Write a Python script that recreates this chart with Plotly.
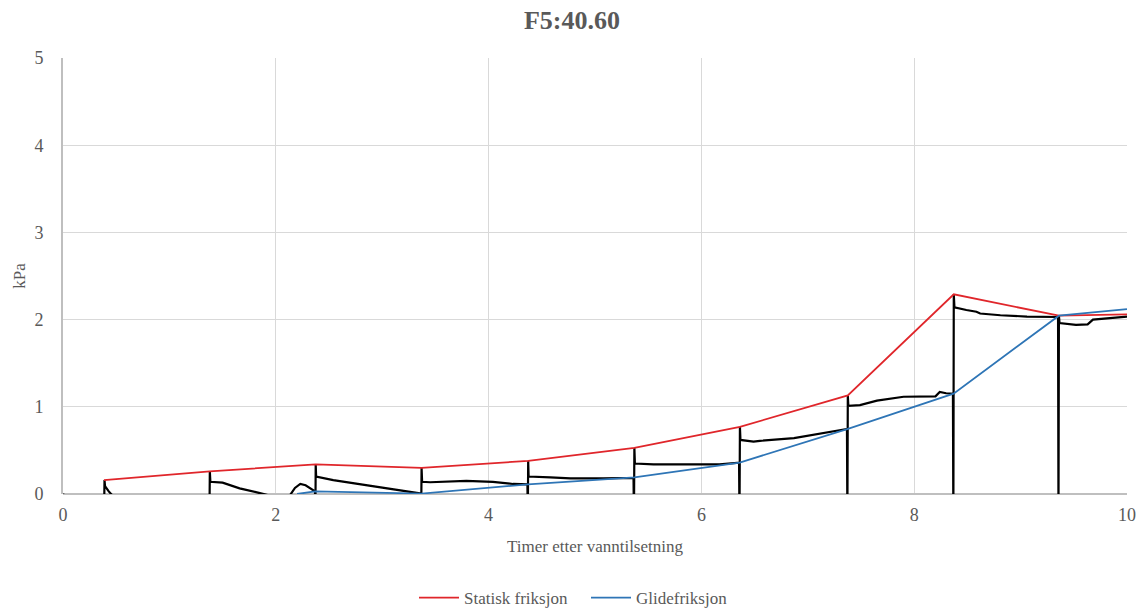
import plotly.graph_objects as go

# Hourly friction readings (kPa) against hours after water addition
hours_static = [0.385, 1.38, 2.375, 3.37, 4.372, 5.37, 6.362, 7.376, 8.372, 9.36, 10.0]
static_kpa = [0.16, 0.26, 0.34, 0.30, 0.38, 0.53, 0.77, 1.13, 2.29, 2.045, 2.06]

hours_glide = [2.2, 2.37, 3.37, 4.37, 5.37, 6.36, 7.37, 8.37, 9.36, 10.0]
glide_kpa = [0.0, 0.03, 0.005, 0.11, 0.19, 0.36, 0.745, 1.15, 2.045, 2.12]

# Raw shear-box log (kPa), including the unloading dips below zero
raw_hours = [
    0.0, 0.05, 0.2, 0.385, 0.39, 0.395, 0.43, 0.46, 0.7, 1.0,
    1.376, 1.38, 1.385, 1.5, 1.66, 1.85, 1.95, 2.05, 2.13, 2.18, 2.23, 2.28, 2.35, 2.368,
    2.372, 2.375, 2.379, 2.54, 2.85, 3.17, 3.362,
    3.366, 3.37, 3.375, 3.45, 3.79, 4.04, 4.23, 4.365,
    4.368, 4.372, 4.376, 4.58, 4.77, 5.08, 5.362,
    5.366, 5.37, 5.375, 5.55, 5.86, 6.17, 6.354,
    6.358, 6.362, 6.367, 6.49, 6.55, 6.87, 7.18, 7.368,
    7.372, 7.376, 7.381, 7.49, 7.65, 7.9, 8.2, 8.24, 8.3, 8.364,
    8.368, 8.372, 8.378, 8.49, 8.585, 8.62, 8.81, 9.06, 9.352,
    9.356, 9.36, 9.366, 9.52, 9.63, 9.68, 9.84, 10.0,
]
raw_kpa = [
    0.0, -0.05, -0.2, -0.3, 0.16, 0.09, 0.03, -0.01, -0.1, -0.15,
    -0.3, 0.26, 0.14, 0.13, 0.065, 0.01, -0.02, -0.06, -0.02, 0.07, 0.115, 0.10, 0.04, 0.03,
    -0.3, 0.34, 0.20, 0.16, 0.10, 0.046, 0.005,
    -0.3, 0.30, 0.14, 0.135, 0.15, 0.14, 0.115, 0.11,
    -0.3, 0.38, 0.20, 0.19, 0.18, 0.18, 0.185,
    -0.3, 0.53, 0.35, 0.34, 0.34, 0.34, 0.36,
    -0.3, 0.77, 0.62, 0.60, 0.61, 0.64, 0.70, 0.745,
    -0.3, 1.13, 1.01, 1.02, 1.07, 1.115, 1.12, 1.17, 1.155, 1.15,
    -0.3, 2.29, 2.14, 2.11, 2.09, 2.07, 2.05, 2.035, 2.03,
    -0.3, 2.045, 1.96, 1.94, 1.945, 2.0, 2.015, 2.035,
]

x_ticks = [0, 2, 4, 6, 8, 10]
y_ticks = [0, 1, 2, 3, 4, 5]

SERIF = "Liberation Serif, Times New Roman, serif"
GREY_TEXT = "#595959"

fig = go.Figure()

fig.add_trace(go.Scatter(
    x=raw_hours, y=raw_kpa, mode="lines",
    line=dict(color="black", width=2.2),
    showlegend=False, hoverinfo="skip",
))
fig.add_trace(go.Scatter(
    x=hours_static, y=static_kpa, mode="lines",
    name="Statisk friksjon",
    line=dict(color="#E0262B", width=1.8),
))
fig.add_trace(go.Scatter(
    x=hours_glide, y=glide_kpa, mode="lines",
    name="Glidefriksjon",
    line=dict(color="#2E75B6", width=1.8),
))

fig.update_layout(
    width=1144, height=610,
    margin=dict(l=63, r=17, t=58, b=116),
    paper_bgcolor="white", plot_bgcolor="white",
    font=dict(family=SERIF, color=GREY_TEXT),
    title=dict(
        text="<b>F5:40.60</b>", x=0.5, xanchor="center",
        y=1 - 20 / 610, yanchor="middle", yref="container",
        font=dict(family=SERIF, size=26, color=GREY_TEXT),
    ),
    legend=dict(
        orientation="h", xref="container", x=414 / 1144, xanchor="left",
        yref="container", y=1 - 598 / 610, yanchor="middle",
        font=dict(family=SERIF, size=17, color=GREY_TEXT),
        itemwidth=40, tracegroupgap=0, entrywidth=117,
    ),
)

fig.update_xaxes(
    range=[0, 10], tickvals=x_ticks, ticktext=[str(v) for v in x_ticks],
    showgrid=True, gridcolor="#D9D9D9", gridwidth=1,
    showline=False, zeroline=False, ticks="", automargin=False,
    tickfont=dict(family=SERIF, size=18, color=GREY_TEXT),
    ticklabelstandoff=8,
    title=dict(text="Timer etter vanntilsetning", standoff=16,
               font=dict(family=SERIF, size=17, color=GREY_TEXT)),
)
fig.update_yaxes(
    range=[0, 5], tickvals=y_ticks, ticktext=[str(v) for v in y_ticks],
    showgrid=True, gridcolor="#D9D9D9", gridwidth=1,
    showline=True, linecolor="#BFBFBF", linewidth=2,
    zeroline=True, zerolinecolor="#BFBFBF", zerolinewidth=2,
    ticks="", ticklabelstandoff=14, automargin=False,
    tickfont=dict(family=SERIF, size=18, color=GREY_TEXT),
    title=dict(text="kPa", standoff=4,
               font=dict(family=SERIF, size=17, color=GREY_TEXT)),
)

fig.write_html("out.html")
